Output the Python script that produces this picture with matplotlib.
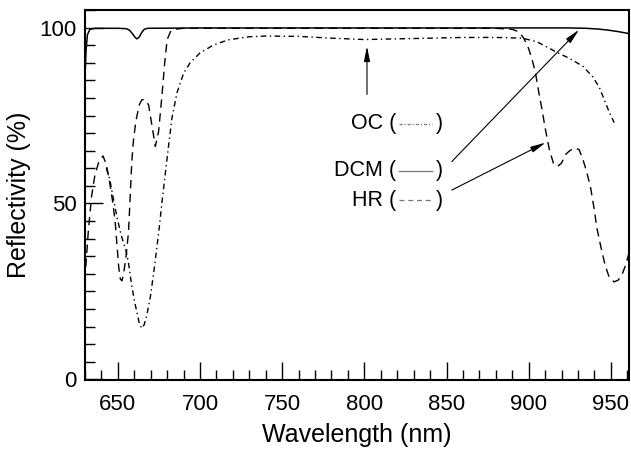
import matplotlib
matplotlib.use("Agg")
import matplotlib.pyplot as plt
from matplotlib.lines import Line2D
from matplotlib.ticker import MultipleLocator

plt.rcParams["font.family"] = ["Liberation Sans", "DejaVu Sans"]

# DCM mirror (solid)
dcm_nm = [630, 630.7, 631.5, 633, 636, 650, 655, 657, 659, 660.5, 661.6, 663, 664.5,
          666, 668, 700, 800, 900, 925, 935, 942, 948, 954, 961]
dcm_r = [86, 94, 98, 99.5, 99.8, 99.8, 99.7, 99.3, 98.2, 97.2, 96.8, 97.3, 98.6,
         99.5, 99.8, 99.9, 99.9, 99.9, 99.9, 99.8, 99.6, 99.3, 98.9, 98.3]

# output coupler (dash-dot)
oc_nm = [643, 645, 647, 649.5, 652, 655, 656.5, 658.5, 660, 661.6, 663, 664.6, 666,
         667.5, 669.8, 672, 674.8, 677, 679, 681, 683, 686, 690, 694, 700, 708, 717,
         730, 740, 760, 780, 800, 820, 841, 860, 880, 896, 905, 917, 925, 933, 939,
         943, 946, 949, 952]
oc_r = [60, 57, 52, 46, 41, 36.5, 33, 26.5, 22.5, 19, 16, 14.5, 15.5,
        18, 23.5, 31, 41.5, 51, 59, 67, 74.5, 81.5, 87, 90, 92.8, 95, 96.5,
        97.4, 97.6, 97.5, 97, 96.6, 96.8, 97, 97.2, 97.2, 97, 96, 93, 91.2, 89, 86,
        83, 79.5, 76, 73]

# high reflector (dashed)
hr_nm = [630.5, 632, 634, 636, 638.5, 641, 643, 645, 647, 648.5, 649.5, 650.5, 651.5,
         652.5, 653.5, 655, 656.5, 657.5, 658.5, 659.5, 661, 663, 664.6, 666.5, 668.7,
         670.8, 672.8, 674.8, 676.9, 678.5, 680, 682, 684, 690, 880, 890, 894, 897, 900,
         902, 904, 906, 908, 910, 912.5, 915, 917.5, 920, 922.6, 925, 928, 930.7, 933,
         935, 937.6, 940, 941.5, 944, 946.5, 949, 952, 954.5, 957, 959, 961]
hr_r = [32, 42, 52, 58, 62, 63.5, 61, 56, 50, 44, 38, 32, 28.5,
        28, 30, 35, 42, 52, 62, 68, 73.5, 78, 79.5, 79.5, 78,
        72, 66.2, 70.5, 81, 90, 96.6, 98.8, 99.5, 99.8, 99.8, 99.5, 98.8, 97, 94,
        91, 87.5, 82, 77, 71.5, 65.5, 61.5, 60.5, 61.5, 64, 65, 65.8, 65.3, 62.5,
        59.5, 54.7, 48, 43, 37.5, 32.5, 29, 27.7, 28.2, 30, 32.5, 35.8]

fig = plt.figure(figsize=(6.31, 4.49), dpi=100)
ax = fig.add_axes([0.1347, 0.1537, 0.862, 0.824])

ax.plot(dcm_nm, dcm_r, color="black", lw=1.1)
ax.plot(oc_nm, oc_r, color="black", lw=1.0, linestyle=(0, (4, 2.5, 1, 2.5)))
ax.plot(hr_nm, hr_r, color="black", lw=1.0, linestyle=(0, (6, 4)))

ax.set_xlim(630, 961)
ax.set_ylim(-0.2, 105)
ax.xaxis.set_major_locator(MultipleLocator(50))
ax.xaxis.set_minor_locator(MultipleLocator(10))
ax.yaxis.set_major_locator(MultipleLocator(50))
ax.yaxis.set_minor_locator(MultipleLocator(5))
ax.tick_params(which="both", direction="in", top=False, right=False,
               width=1.0, labelsize=16)
ax.tick_params(which="major", length=13)
ax.tick_params(which="minor", length=7)
ax.tick_params(axis="x", pad=10)
ax.tick_params(axis="y", pad=6)
for sp in ax.spines.values():
    sp.set_linewidth(1.5)

ax.set_xlabel("Wavelength (nm)", fontsize=18, labelpad=6)
ax.set_ylabel("Reflectivity (%)", fontsize=18, labelpad=6)

# labels with arrows
arrow = dict(arrowstyle="-|>,head_length=0.9,head_width=0.18", color="black",
             lw=0.8, shrinkA=0, shrinkB=0)
ax.annotate("", xy=(801.6, 94.7), xytext=(801.6, 81), arrowprops=arrow)
ax.annotate("", xy=(930.7, 99.4), xytext=(853.2, 61.9), arrowprops=arrow)
ax.annotate("", xy=(910.3, 67.3), xytext=(853.2, 53.8), arrowprops=arrow)

labels = [("OC", 0.692, (0, (2.5, 1.5, 1, 1.5))),
          ("DCM", 0.565, "-"),
          ("HR", 0.486, (0, (4, 3)))]
for name, yy, ls in labels:
    ax.text(0.572, yy, name + " (", transform=ax.transAxes, fontsize=15.5,
            ha="right", va="center")
    ax.text(0.645, yy, ")", transform=ax.transAxes, fontsize=15.5,
            ha="left", va="center")
    ax.add_line(Line2D([0.578, 0.638], [yy, yy], transform=ax.transAxes,
                       color="#777777", lw=0.9, linestyle=ls))

fig.savefig("out.png", dpi=100)
